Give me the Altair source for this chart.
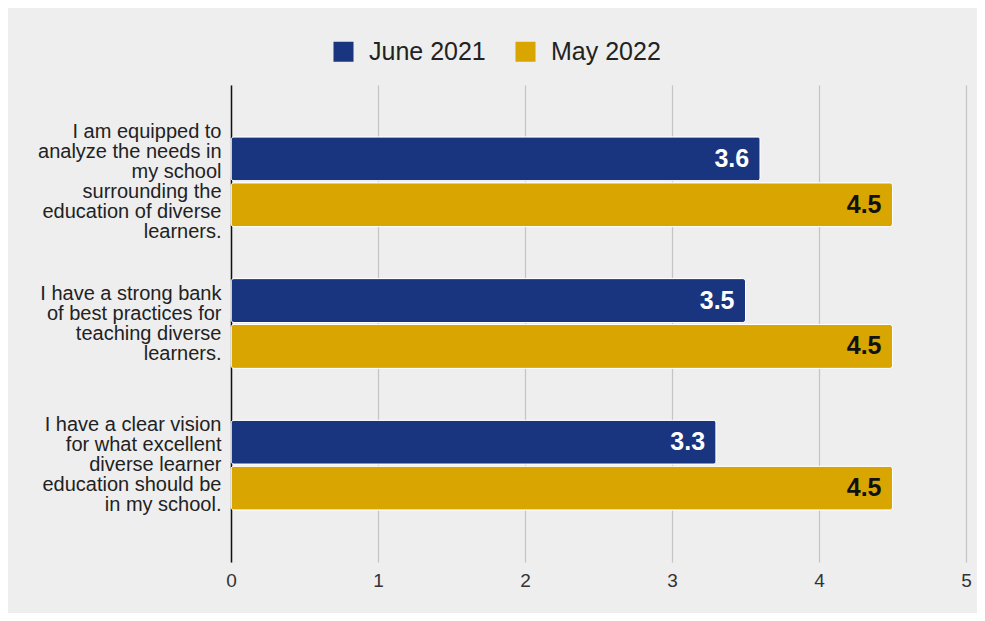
import altair as alt
import pandas as pd

categories = [
    "I am equipped to|analyze the needs in|my school|surrounding the|education of diverse|learners.",
    "I have a strong bank|of best practices for|teaching diverse|learners.",
    "I have a clear vision|for what excellent|diverse learner|education should be|in my school.",
]
series = ["June 2021", "May 2022"]
june_2021 = [3.6, 3.5, 3.3]
may_2022 = [4.5, 4.5, 4.5]
x_ticks = [0, 1, 2, 3, 4, 5]
colors = ["#1a3580", "#d9a500"]

rows = []
for c, a, b in zip(categories, june_2021, may_2022):
    rows.append({"statement": c, "series": series[0], "value": a})
    rows.append({"statement": c, "series": series[1], "value": b})
df = pd.DataFrame(rows)

FONT = "Liberation Sans, Arial, sans-serif"
LINE_H = 20
n_lines = "length(split(datum.value, '|'))"

y_enc = alt.Y(
    "statement:N",
    sort=categories,
    scale=alt.Scale(paddingInner=0.366, paddingOuter=0.366),
    axis=alt.Axis(
        title=None,
        ticks=False,
        grid=False,
        domainColor="#111111",
        domainWidth=1.5,
        labelFontSize=20,
        labelLineHeight=LINE_H,
        labelColor="#222222",
        labelPadding=10,
        labelLimit=0,
        labelFont=FONT,
        labelExpr="split(datum.label, '|')",
        labelOffset={
            "condition": [
                {"test": f"{n_lines} == 6", "value": -2.5 * LINE_H},
                {"test": f"{n_lines} == 5", "value": -2.0 * LINE_H},
            ],
            "value": -1.5 * LINE_H,
        },
    ),
)
yoff = alt.YOffset("series:N", sort=series, scale=alt.Scale(paddingInner=0.043))
x_enc = alt.X(
    "value:Q",
    scale=alt.Scale(domain=[0, 5], nice=False),
    axis=alt.Axis(
        title=None,
        values=x_ticks,
        format="d",
        domain=False,
        ticks=False,
        grid=True,
        gridColor="#c4c4c4",
        gridWidth=1.2,
        labelFontSize=19,
        labelColor="#333333",
        labelPadding=9,
        labelFlush=False,
        labelFont=FONT,
    ),
)

base = alt.Chart(df)

bars = base.mark_bar(cornerRadius=3, stroke="white", strokeWidth=1).encode(
    y=y_enc,
    yOffset=yoff,
    x=x_enc,
    color=alt.Color(
        "series:N",
        sort=series,
        scale=alt.Scale(domain=series, range=colors),
        legend=alt.Legend(
            title=None,
            orient="none",
            legendX=100,
            legendY=-46,
            direction="horizontal",
            symbolType="square",
            symbolSize=400,
            symbolStrokeWidth=0,
            labelFontSize=25,
            labelFont=FONT,
            labelColor="#222222",
            labelOffset=13,
            columnPadding=27,
        ),
    ),
)

labels = base.mark_text(
    align="right", baseline="middle", dx=-11, fontSize=25, fontWeight="bold", font=FONT
).encode(
    y=alt.Y("statement:N", sort=categories),
    yOffset=alt.YOffset("series:N", sort=series),
    x=alt.X("value:Q"),
    text=alt.Text("value:Q", format=".1f"),
    color=alt.condition(
        "datum.series === 'June 2021'", alt.value("white"), alt.value("#111111")
    ),
)

chart = (
    alt.layer(bars, labels)
    .properties(
        width=735,
        height=477,
        background="#eeeeee",
        autosize=alt.AutoSizeParams(type="none"),
        padding={"left": 223, "top": 77, "right": 11, "bottom": 51},
    )
    .configure_view(stroke=None)
)

chart.save("out.html", embed_options={"renderer": "svg", "actions": False})
